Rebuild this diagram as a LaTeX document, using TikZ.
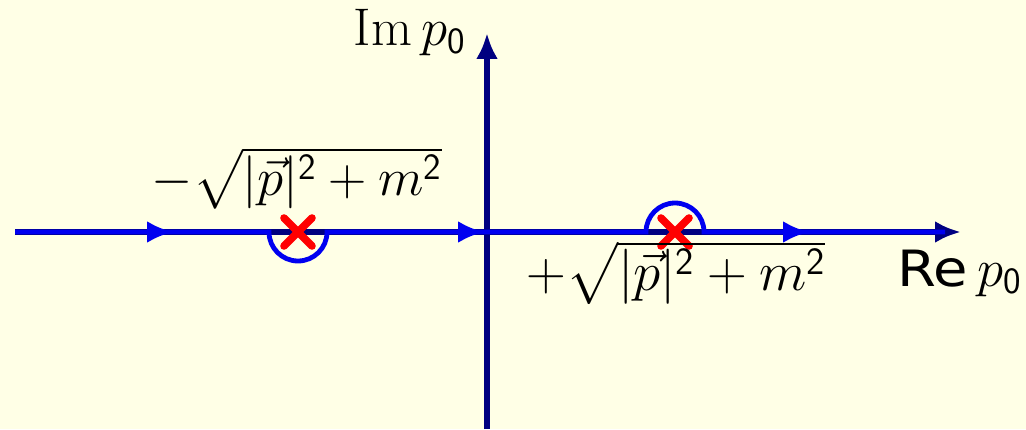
\RequirePackage{fix-cm}
\documentclass[tikz,border=0pt]{standalone}
\usepackage{amsmath}
\usepackage{fontspec}
\newfontfamily\resf{DejaVu Sans}
\usetikzlibrary{arrows.meta}
\definecolor{bgc}{RGB}{255,255,230}
\definecolor{axisc}{RGB}{0,0,128}
\definecolor{contc}{RGB}{0,0,240}
\definecolor{polec}{RGB}{255,0,0}
\tikzset{
  axisline/.style={draw=axisc,line width=2.6pt},
  contour/.style={draw=contc,line width=2.4pt},
  tipA/.style={-{Latex[length=13pt,width=11pt]}},
  pole/.style={draw=polec,line width=3.8pt,line cap=round},
  lbl/.style={inner sep=0pt,font=\fontsize{26.5}{30}\selectfont}
}
\begin{document}
\begin{tikzpicture}[x=0.5pt,y=0.5pt]
\fill[bgc] (0,0) rectangle (1026,429);
\useasboundingbox (0,0) rectangle (1026,429);
% axes
\coordinate (xs) at (15,197);
\coordinate (xe) at (961,197);
\coordinate (ys) at (487,0);
\coordinate (ye) at (487,396);
\draw[axisline,tipA] (xs) -- (xe);
\draw[axisline,tipA] (ys) -- (ye);
% contour
\draw[contour] (15,197) -- (269,197) arc[start angle=180,end angle=360,radius=29]
  -- (646,197) arc[start angle=180,end angle=0,radius=29] -- (945,197);
\draw[contour,tipA] (150,197) -- (173,197);
\draw[contour,tipA] (460,197) -- (484,197);
\draw[contour,tipA] (785,197) -- (809,197);
% poles
\foreach \px/\nm in {298/pl,675/pr}{
  \coordinate (\nm) at (\px,197);
  \draw[pole] ([shift={(-14,-14)}]\nm) -- ([shift={(14,14)}]\nm);
  \draw[pole] ([shift={(-14,14)}]\nm) -- ([shift={(14,-14)}]\nm);
}
% labels
\node[lbl,anchor=base east] (im) at (466,383) {$\mathrm{Im}\,p_{\mathsf{0}}$};
\node[lbl,anchor=base east] (re) at (1022,143) {\scalebox{1.12}[1]{\fontsize{25}{28}\selectfont\resf Re}$\,p_{\mathsf{0}}$};
\node[lbl,anchor=base] (ml) at (297,234) {$-\sqrt{|\vec{p}|^{\mathsf{2}}+m^{\mathsf{2}}}$};
\node[lbl,anchor=base] (mr) at (676,139) {\scalebox{1.04}{$+\sqrt{|\vec{p}|^{\mathsf{2}}+m^{\mathsf{2}}}$}};
\end{tikzpicture}
\end{document}
